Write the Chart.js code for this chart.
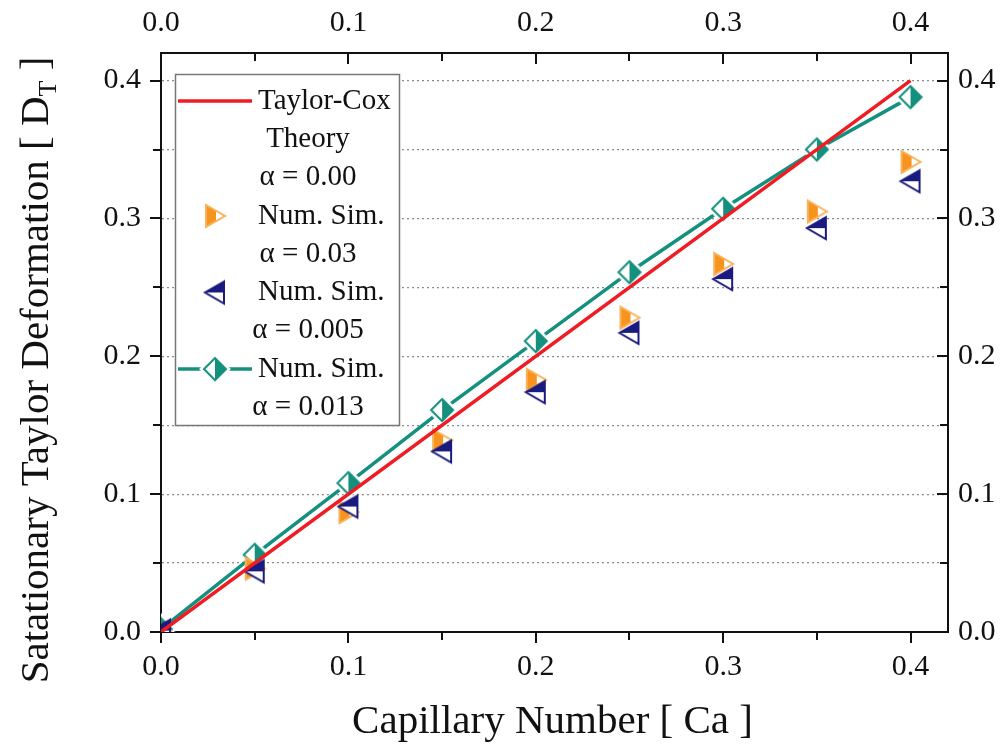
<!DOCTYPE html>
<html>
<head>
<meta charset="utf-8">
<script src="https://cdn.jsdelivr.net/npm/chart.js@4/dist/chart.umd.min.js"></script>
<style>
  html, body { margin: 0; padding: 0; background: #fff; }
  #wrap { width: 1005px; height: 754px; }
</style>
</head>
<body>
<div id="wrap"><canvas id="deformation" width="1005" height="754"></canvas></div>
<script>
// capillary numbers used in the simulations
var caValues = [0, 0.05, 0.1, 0.15, 0.2, 0.25, 0.3, 0.35, 0.4];

// Taylor-Cox theory (straight line D = Ca)
var theoryCa = [0, 0.4];
var theoryDt = [0, 0.4];

// numerical simulations
var simAlpha003 = [0.001, 0.046, 0.087, 0.139, 0.183, 0.228, 0.267, 0.305, 0.341];
var simAlpha0005 = [0.001, 0.044, 0.091, 0.131, 0.174, 0.217, 0.256, 0.293, 0.327];
var simAlpha0013 = [0.002, 0.056, 0.108, 0.161, 0.211, 0.261, 0.307, 0.350, 0.388];

var legendTheory = ["Taylor-Cox", "Theory", "α = 0.00"];
var legendAlpha003 = ["Num. Sim.", "α = 0.03"];
var legendAlpha0005 = ["Num. Sim.", "α = 0.005"];
var legendAlpha0013 = ["Num. Sim.", "α = 0.013"];

var xTitle = "Capillary Number [ Ca ]";
var yTitle = "Satationary Taylor Deformation [ D";
var yTitleSub = "T";
var yTitleEnd = " ]";

var RED = "#f01c24";
var TEAL = "#14907e";
var ORANGE = "#f7941d";
var NAVY = "#1b1b7f";
var SERIF = "'Liberation Serif', 'DejaVu Serif', serif";

function toPoints(xs, ys) {
  return xs.map(function (x, i) { return { x: x, y: ys[i] }; });
}

// half filled markers, drawn once into small canvases
function makeMarker(kind) {
  var c = document.createElement("canvas");
  c.width = 32;
  c.height = 32;
  var g = c.getContext("2d");
  var cx = 16, cy = 16;
  var pts;
  if (kind === "right") {
    pts = [[cx - 9, cy - 11], [cx + 10, cy], [cx - 9, cy + 11]];
  } else if (kind === "left") {
    pts = [[cx + 9, cy - 11], [cx - 10, cy], [cx + 9, cy + 11]];
  } else {
    pts = [[cx, cy - 11], [cx + 11, cy], [cx, cy + 11], [cx - 11, cy]];
  }
  function path() {
    g.beginPath();
    g.moveTo(pts[0][0], pts[0][1]);
    for (var i = 1; i < pts.length; i++) g.lineTo(pts[i][0], pts[i][1]);
    g.closePath();
  }
  var col = kind === "right" ? ORANGE : kind === "left" ? NAVY : TEAL;
  if (kind === "diamond") {
    // white halo so the connecting line stops short of the marker
    path();
    g.strokeStyle = "#fff";
    g.lineWidth = 7;
    g.stroke();
  }
  path();
  g.fillStyle = "#fff";
  g.fill();
  g.save();
  path();
  g.clip();
  g.fillStyle = col;
  if (kind === "right") g.fillRect(0, 0, cx + 1, 32);
  else if (kind === "left") g.fillRect(0, 0, 32, cy);
  else g.fillRect(cx, 0, 32, 32);
  g.restore();
  path();
  g.strokeStyle = kind === "right" ? "#f8b25c" : col;
  g.lineWidth = 2;
  g.stroke();
  return c;
}

var markerRight = makeMarker("right");
var markerLeft = makeMarker("left");
var markerDiamond = makeMarker("diamond");

function isMajor(v) {
  return Math.abs(v * 10 - Math.round(v * 10)) < 1e-6;
}
function tickLabel(v) {
  return isMajor(v) ? v.toFixed(1) : "";
}

var tickFont = { family: SERIF, size: 30 };

var framePlugin = {
  id: "frame",
  afterDraw: function (chart) {
    var ctx = chart.ctx;
    var a = chart.chartArea;
    var s = chart.scales;
    ctx.save();
    ctx.strokeStyle = "#111";
    ctx.lineWidth = 2;
    function seg(x1, y1, x2, y2) {
      ctx.beginPath();
      ctx.moveTo(x1, y1);
      ctx.lineTo(x2, y2);
      ctx.stroke();
    }
    s.x.ticks.forEach(function (t) {
      var px = Math.round(s.x.getPixelForValue(t.value));
      var len = isMajor(t.value) ? 11 : 8;
      seg(px, a.bottom, px, a.bottom + len);
    });
    s.x2.ticks.forEach(function (t) {
      var px = Math.round(s.x2.getPixelForValue(t.value));
      var len = isMajor(t.value) ? 11 : 8;
      seg(px, a.top, px, a.top + len);
    });
    s.y.ticks.forEach(function (t) {
      var py = Math.round(s.y.getPixelForValue(t.value));
      var len = isMajor(t.value) ? 11 : 8;
      seg(a.left - len, py, a.left, py);
    });
    s.y2.ticks.forEach(function (t) {
      var py = Math.round(s.y2.getPixelForValue(t.value));
      var len = isMajor(t.value) ? 11 : 8;
      seg(a.right - len, py, a.right, py);
    });

    // axis titles
    ctx.fillStyle = "#111";
    ctx.font = "41px " + SERIF;
    ctx.textAlign = "center";
    ctx.textBaseline = "middle";
    ctx.fillText(xTitle, (a.left + a.right) / 2 - 2, 722);

    ctx.save();
    ctx.translate(35, 370);
    ctx.rotate(-Math.PI / 2);
    ctx.font = "41px " + SERIF;
    var w1 = ctx.measureText(yTitle).width;
    ctx.font = "26px " + SERIF;
    var w2 = ctx.measureText(yTitleSub).width;
    ctx.font = "41px " + SERIF;
    var w3 = ctx.measureText(yTitleEnd).width;
    var x0 = -(w1 + w2 + w3) / 2;
    ctx.textAlign = "left";
    ctx.textBaseline = "alphabetic";
    ctx.fillText(yTitle, x0, 13);
    ctx.font = "26px " + SERIF;
    ctx.fillText(yTitleSub, x0 + w1, 21);
    ctx.font = "41px " + SERIF;
    ctx.fillText(yTitleEnd, x0 + w1 + w2, 13);
    ctx.restore();

    // legend box
    var box = { left: 175, top: 74, right: 399, bottom: 425 };
    ctx.fillStyle = "#fff";
    ctx.fillRect(box.left, box.top, box.right - box.left, box.bottom - box.top);
    ctx.strokeStyle = "#777";
    ctx.lineWidth = 1.5;
    ctx.strokeRect(box.left + 0.5, box.top + 0.5, box.right - box.left, box.bottom - box.top);

    var row = 0;
    var rowY = function (r) { return 101 + r * 38.3; };
    ctx.font = "29px " + SERIF;
    ctx.textBaseline = "middle";
    ctx.fillStyle = "#111";
    chart.data.datasets.forEach(function (ds) {
      var y = rowY(row);
      if (ds.showLine) {
        ctx.strokeStyle = ds.borderColor;
        ctx.lineWidth = ds.borderWidth;
        seg(178, y, 252, y);
      }
      if (ds.pointStyle instanceof HTMLCanvasElement && ds.pointRadius > 0) {
        ctx.drawImage(ds.pointStyle, 215 - 16, y - 16);
      }
      ds.lines.forEach(function (txt, i) {
        if (i === 0) {
          ctx.textAlign = "left";
          ctx.fillText(txt, 258, rowY(row));
        } else {
          ctx.textAlign = "center";
          ctx.fillText(txt, 308, rowY(row));
        }
        row++;
      });
    });
    ctx.restore();
  }
};

var ctx = document.getElementById("deformation");

new Chart(ctx, {
  type: "scatter",
  data: {
    datasets: [
      {
        label: legendTheory.join(" "),
        lines: legendTheory,
        data: toPoints(theoryCa, theoryDt),
        showLine: true,
        borderColor: RED,
        backgroundColor: RED,
        borderWidth: 3.5,
        pointRadius: 0,
        order: 0,
      },
      {
        label: legendAlpha003.join(" "),
        lines: legendAlpha003,
        data: toPoints(caValues, simAlpha003),
        showLine: false,
        pointStyle: markerRight,
        pointRadius: 10,
        order: 2,
      },
      {
        label: legendAlpha0005.join(" "),
        lines: legendAlpha0005,
        data: toPoints(caValues, simAlpha0005),
        showLine: false,
        pointStyle: markerLeft,
        pointRadius: 10,
        order: 1,
      },
      {
        label: legendAlpha0013.join(" "),
        lines: legendAlpha0013,
        data: toPoints(caValues, simAlpha0013),
        showLine: true,
        borderColor: TEAL,
        backgroundColor: TEAL,
        borderWidth: 3.5,
        pointStyle: markerDiamond,
        pointRadius: 11,
        order: 3,
      },
    ],
  },
  options: {
    responsive: false,
    animation: false,
    layout: { padding: 0 },
    plugins: {
      legend: { display: false },
      tooltip: { enabled: false },
    },
    scales: {
      x: {
        type: "linear",
        position: "bottom",
        min: 0,
        max: 0.42,
        ticks: {
          stepSize: 0.05,
          includeBounds: false,
          autoSkip: false,
          maxRotation: 0,
          padding: 17,
          color: "#111",
          font: tickFont,
          callback: tickLabel,
        },
        grid: { drawOnChartArea: false, drawTicks: false },
        border: { display: true, color: "#111", width: 2 },
        afterFit: function (scale) { scale.height = 122; },
      },
      x2: {
        type: "linear",
        position: "top",
        min: 0,
        max: 0.42,
        ticks: {
          stepSize: 0.05,
          includeBounds: false,
          autoSkip: false,
          maxRotation: 0,
          padding: 12,
          color: "#111",
          font: tickFont,
          callback: tickLabel,
        },
        grid: { drawOnChartArea: false, drawTicks: false },
        border: { display: true, color: "#111", width: 2 },
        afterFit: function (scale) { scale.height = 53; },
      },
      y: {
        type: "linear",
        position: "left",
        min: 0,
        max: 0.42,
        ticks: {
          stepSize: 0.05,
          includeBounds: false,
          autoSkip: false,
          padding: 20,
          color: "#111",
          font: tickFont,
          callback: tickLabel,
        },
        grid: { drawOnChartArea: true, drawTicks: false, color: "#8a8a8a", lineWidth: 1.2 },
        border: { display: true, color: "#111", width: 2, dash: [2, 3] },
        afterFit: function (scale) { scale.width = 161; },
      },
      y2: {
        type: "linear",
        position: "right",
        min: 0,
        max: 0.42,
        ticks: {
          stepSize: 0.05,
          includeBounds: false,
          autoSkip: false,
          padding: 10,
          color: "#111",
          font: tickFont,
          callback: tickLabel,
        },
        grid: { drawOnChartArea: false, drawTicks: false },
        border: { display: true, color: "#111", width: 2 },
        afterFit: function (scale) { scale.width = 57; },
      },
    },
  },
  plugins: [framePlugin],
});
</script>
</body>
</html>
